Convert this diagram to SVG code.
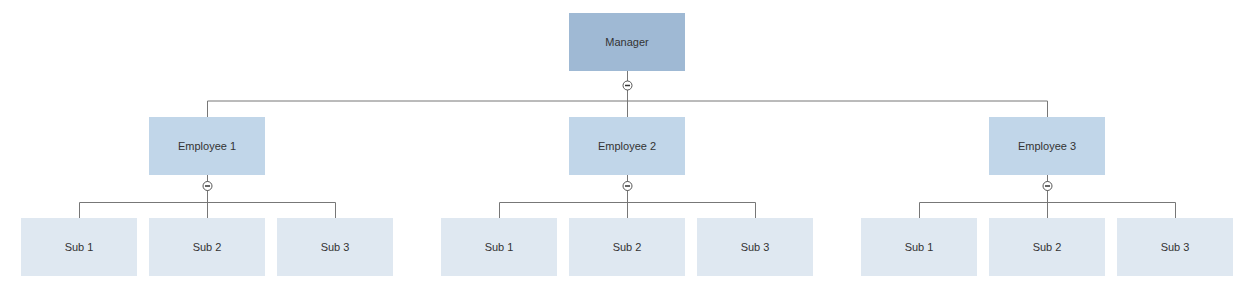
<svg xmlns="http://www.w3.org/2000/svg" width="1256" height="299" viewBox="0 0 1256 299">
<style>
.l0{fill:#9fb9d4}
.l1{fill:#c1d6e9}
.l2{fill:#dfe8f1}
text{font-family:"Liberation Sans",Arial,sans-serif;font-size:11px;fill:#333;text-anchor:middle;dominant-baseline:central}
.c{stroke:#777;stroke-width:1;fill:none}
.t circle{fill:#fff;stroke:#555;stroke-width:1}
.t line{stroke:#333;stroke-width:1.5}
</style>
<defs>
<g id="tog" class="t"><circle r="4.5"/><line x1="-2.5" y1="0" x2="2.5" y2="0"/></g>
</defs>
<rect width="1256" height="299" fill="#fff"/>
<g id="connectors">
<path class="c" d="M627.5 71V117M207.5 101H1047.5M207.5 101V117M1047.5 101V117"/>
<path class="c" d="M207.5 175V218M79.5 202.5H335.5M79.5 202.5V218M335.5 202.5V218"/>
<path class="c" d="M627.5 175V218M499.5 202.5H755.5M499.5 202.5V218M755.5 202.5V218"/>
<path class="c" d="M1047.5 175V218M919.5 202.5H1175.5M919.5 202.5V218M1175.5 202.5V218"/>
<use href="#tog" x="627.5" y="85.5"/>
<use href="#tog" x="207.5" y="186"/>
<use href="#tog" x="627.5" y="186"/>
<use href="#tog" x="1047.5" y="186"/>
</g>
<g id="manager"><rect class="l0" x="569" y="13" width="116" height="58"/><text x="627" y="42">Manager</text></g>
<g id="employee1"><rect class="l1" x="149" y="117" width="116" height="58"/><text x="207" y="146">Employee 1</text></g>
<g id="employee2"><rect class="l1" x="569" y="117" width="116" height="58"/><text x="627" y="146">Employee 2</text></g>
<g id="employee3"><rect class="l1" x="989" y="117" width="116" height="58"/><text x="1047" y="146">Employee 3</text></g>
<g id="e1sub1"><rect class="l2" x="21" y="218" width="116" height="58"/><text x="79" y="247">Sub 1</text></g>
<g id="e1sub2"><rect class="l2" x="149" y="218" width="116" height="58"/><text x="207" y="247">Sub 2</text></g>
<g id="e1sub3"><rect class="l2" x="277" y="218" width="116" height="58"/><text x="335" y="247">Sub 3</text></g>
<g id="e2sub1"><rect class="l2" x="441" y="218" width="116" height="58"/><text x="499" y="247">Sub 1</text></g>
<g id="e2sub2"><rect class="l2" x="569" y="218" width="116" height="58"/><text x="627" y="247">Sub 2</text></g>
<g id="e2sub3"><rect class="l2" x="697" y="218" width="116" height="58"/><text x="755" y="247">Sub 3</text></g>
<g id="e3sub1"><rect class="l2" x="861" y="218" width="116" height="58"/><text x="919" y="247">Sub 1</text></g>
<g id="e3sub2"><rect class="l2" x="989" y="218" width="116" height="58"/><text x="1047" y="247">Sub 2</text></g>
<g id="e3sub3"><rect class="l2" x="1117" y="218" width="116" height="58"/><text x="1175" y="247">Sub 3</text></g>
</svg>
